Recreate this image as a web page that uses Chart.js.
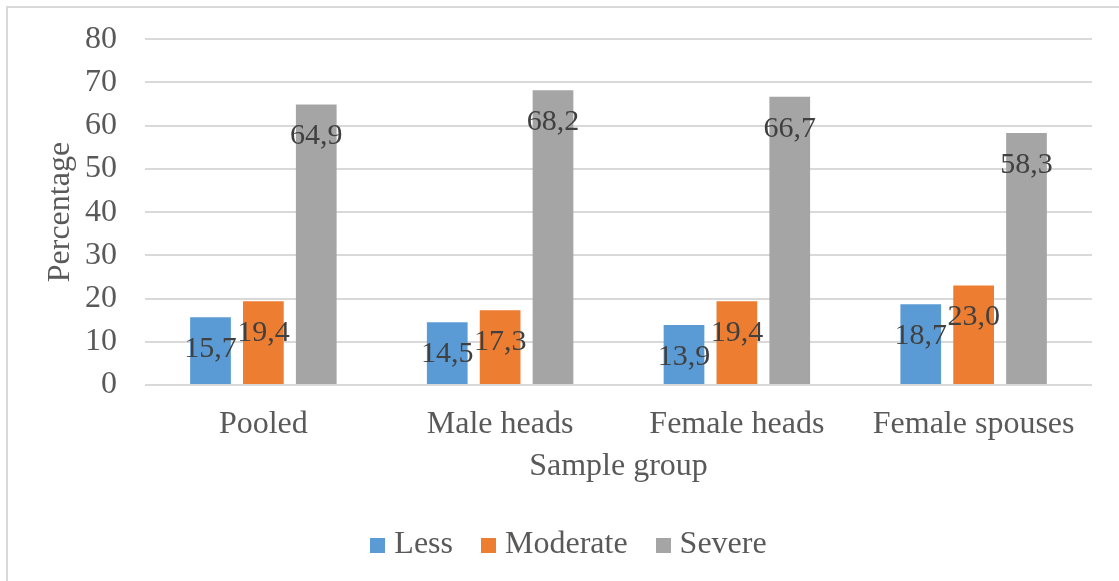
<!DOCTYPE html>
<html>
<head>
<meta charset="utf-8">
<script src="https://cdn.jsdelivr.net/npm/chart.js@4.4.0/dist/chart.umd.min.js"></script>
<style>
html,body{margin:0;padding:0;background:#fff;}
#wrap{width:1119px;height:581px;position:relative;}
</style>
</head>
<body>
<div id="wrap"><canvas id="c" width="1119" height="581"></canvas></div>
<script>
const categories = ["Pooled", "Male heads", "Female heads", "Female spouses"];
const lessValues = [15.7, 14.5, 13.9, 18.7];
const moderateValues = [19.4, 17.3, 19.4, 23.0];
const severeValues = [64.9, 68.2, 66.7, 58.3];
const seriesNames = ["Less", "Moderate", "Severe"];
const seriesColors = ["#5b9bd5", "#ed7d31", "#a5a5a5"];
const yTicks = [0, 10, 20, 30, 40, 50, 60, 70, 80];

const FONT = "'Liberation Serif', 'Times New Roman', serif";

function swatch(color) {
  const c = document.createElement('canvas');
  c.width = 15; c.height = 15;
  const g = c.getContext('2d');
  if (color) { g.fillStyle = color; g.fillRect(0, 0, 15, 15); }
  return c;
}
const swatches = seriesColors.map(swatch);
const blank = swatch(null);

const frame = {
  id: 'frame',
  beforeDraw(chart) {
    const ctx = chart.ctx;
    ctx.save();
    ctx.fillStyle = '#fff';
    ctx.fillRect(0, 0, chart.width, chart.height);
    ctx.strokeStyle = '#d9d9d9';
    ctx.lineWidth = 2;
    ctx.beginPath();
    ctx.moveTo(7, chart.height);
    ctx.lineTo(7, 7);
    ctx.lineTo(chart.width, 7);
    ctx.stroke();
    ctx.restore();
  }
};

const valueLabels = {
  id: 'valueLabels',
  afterDatasetsDraw(chart) {
    const ctx = chart.ctx;
    ctx.save();
    ctx.font = '30px ' + FONT;
    ctx.fillStyle = '#404040';
    ctx.textAlign = 'center';
    ctx.textBaseline = 'middle';
    chart.data.datasets.forEach((ds, i) => {
      const meta = chart.getDatasetMeta(i);
      meta.data.forEach((bar, j) => {
        const txt = ds.data[j].toFixed(1).replace('.', ',');
        ctx.fillText(txt, bar.x, bar.y + 32);
      });
    });
    ctx.restore();
  }
};

new Chart(document.getElementById('c'), {
  type: 'bar',
  data: {
    labels: categories,
    datasets: [
      { label: seriesNames[0], data: lessValues, backgroundColor: seriesColors[0] },
      { label: seriesNames[1], data: moderateValues, backgroundColor: seriesColors[1] },
      { label: seriesNames[2], data: severeValues, backgroundColor: seriesColors[2] }
    ]
  },
  options: {
    responsive: false,
    animation: false,
    devicePixelRatio: 1,
    categoryPercentage: 0.67,
    barPercentage: 0.77,
    layout: { padding: { left: 0, top: 20, right: 27, bottom: 10 } },
    plugins: {
      legend: {
        position: 'bottom',
        labels: {
          font: { family: FONT, size: 32 },
          color: '#595959',
          usePointStyle: true,
          pointStyleWidth: 1,
          boxHeight: 15,
          padding: 35,
          generateLabels(chart) {
            const items = Chart.defaults.plugins.legend.labels.generateLabels(chart);
            items.forEach((it, i) => { it.pointStyle = swatches[i]; });
            items.unshift({ text: '', pointStyle: blank, fillStyle: 'rgba(0,0,0,0)', strokeStyle: 'rgba(0,0,0,0)', lineWidth: 0, hidden: false, datasetIndex: -1 });
            return items;
          }
        },
        onClick() {}
      },
      tooltip: { enabled: false }
    },
    scales: {
      x: {
        afterFit(scale) { scale.height = 109; },
        grid: { display: false, drawTicks: false },
        border: { display: false },
        ticks: { font: { family: FONT, size: 32 }, color: '#595959', padding: 20 },
        title: { display: true, text: 'Sample group', font: { family: FONT, size: 32 }, color: '#595959', padding: { top: 8, bottom: 8 } }
      },
      y: {
        min: 0,
        max: 80,
        afterBuildTicks(scale) { scale.ticks = yTicks.map(v => ({ value: v })); },
        afterFit(scale) { scale.width = 145; },
        grid: { color: '#d9d9d9', lineWidth: 2, drawTicks: true, tickLength: 8, tickColor: 'rgba(0,0,0,0)' },
        border: { display: false },
        ticks: { font: { family: FONT, size: 32 }, color: '#595959', padding: 20 },
        title: { display: true, text: 'Percentage', font: { family: FONT, size: 32 }, color: '#595959', padding: { top: 41, bottom: 0 } }
      }
    }
  },
  plugins: [frame, valueLabels]
});
</script>
</body>
</html>
